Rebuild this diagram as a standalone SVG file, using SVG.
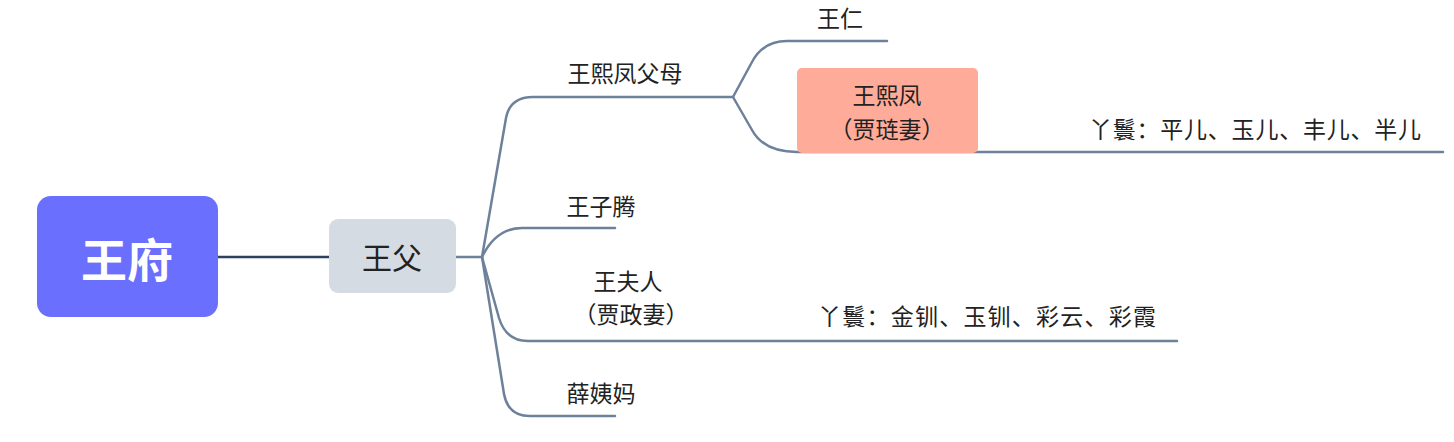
<svg xmlns="http://www.w3.org/2000/svg" width="1454" height="442" viewBox="0 0 1454 442">
<style>
.t{font-family:"Noto Sans CJK SC","Noto Sans",sans-serif;font-size:23px;fill:#222;text-anchor:middle;dominant-baseline:central}
.c{fill:none;stroke:#6e819b;stroke-width:2.5;stroke-linecap:round}
</style>
<rect width="1454" height="442" fill="#fff"/>
<g id="connectors">
<path d="M218,257 L329,257" fill="none" stroke="#2e4160" stroke-width="2.5"/>
<path class="c" d="M456,257 L482,257"/>
<path class="c" d="M482,257 L506,118 Q510,97 533,97 L733,97"/>
<path class="c" d="M482,257 Q496,228 522,228 L615,228"/>
<path class="c" d="M482,257 L499,318 Q506,341 528,341 L1177,341"/>
<path class="c" d="M482,257 L504,394 Q508,416 530,416 L615,416"/>
<path class="c" d="M733,97 L752,62 Q763,41 787,41 L887,41"/>
<path class="c" d="M733,97 L752,130 Q764,152 797,152 L1443,152"/>
</g>
<g id="wangfu">
<rect x="37" y="196" width="181" height="121" rx="14" fill="#6b6ffe"/>
<text x="127" y="257" style="font-family:'Noto Sans CJK SC',sans-serif;font-size:46px;font-weight:bold;fill:#fff;text-anchor:middle;dominant-baseline:central">王府</text>
</g>
<g id="wangfu-father">
<rect x="329" y="219" width="127" height="74" rx="9" fill="#d5dbe3"/>
<text class="t" x="392" y="256" style="font-size:30px">王父</text>
</g>
<g id="xifeng-parents"><text class="t" x="625" y="72">王熙凤父母</text></g>
<g id="wangren"><text class="t" x="840" y="17">王仁</text></g>
<g id="xifeng">
<rect x="797" y="68" width="181" height="85" rx="5" fill="#ffab99"/>
<text class="t" x="887" y="94">王熙凤</text>
<text class="t" x="887" y="128">（贾琏妻）</text>
</g>
<g id="xifeng-maids"><text class="t" x="1255" y="128" textLength="332" lengthAdjust="spacing">丫鬟：平儿、玉儿、丰儿、半儿</text></g>
<g id="wangziteng"><text class="t" x="601" y="205">王子腾</text></g>
<g id="wangfuren">
<text class="t" x="628" y="280">王夫人</text>
<text class="t" x="631" y="313">（贾政妻）</text>
</g>
<g id="wangfuren-maids"><text class="t" x="987" y="315" textLength="338" lengthAdjust="spacing">丫鬟：金钏、玉钏、彩云、彩霞</text></g>
<g id="xueyima"><text class="t" x="601" y="392">薛姨妈</text></g>
</svg>
